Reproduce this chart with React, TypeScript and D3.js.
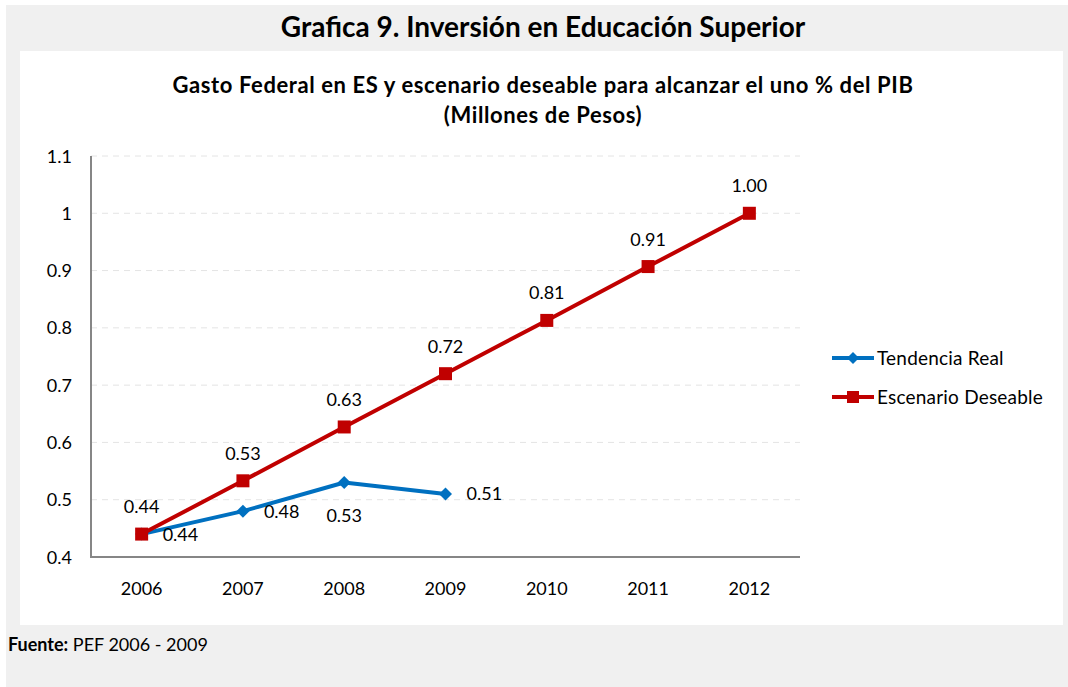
import React from 'react';
import * as d3 from 'd3';

// datos
const years = ['2006', '2007', '2008', '2009', '2010', '2011', '2012'];
const tendenciaReal = [0.44, 0.48, 0.53, 0.51];
const escenarioDeseable = [0.44, 0.533, 0.627, 0.72, 0.813, 0.907, 1.0];
const yTicks = [0.4, 0.5, 0.6, 0.7, 0.8, 0.9, 1, 1.1];
// posición de la etiqueta de cada punto azul
const realLabelPos = ['right', 'right', 'below', 'right'];

const W = 1068;
const H = 687;
const FONT = 'Lato, "Open Sans", sans-serif';
const BLUE = '#0070C0';
const RED = '#C00000';
const FS = 18;

const plot = { left: 91, right: 800, top: 156, bottom: 557 };

export default function App() {
	const x = d3.scalePoint<string>().domain(years).range([plot.left, plot.right]).padding(0.5);
	const y = d3.scaleLinear().domain([0.4, 1.1]).range([plot.bottom, plot.top]);

	const line = d3.line<number>().x((_, i) => x(years[i])!).y(d => y(d));

	const diamond = (cx: number, cy: number, r = 6.5) =>
		`M${cx},${cy - r}L${cx + r},${cy}L${cx},${cy + r}L${cx - r},${cy}Z`;

	return (
		<svg width={W} height={H} style={{ position: 'absolute', left: 0, top: 0, fontFamily: FONT }}>
			<rect x={0} y={0} width={W} height={H} fill="#ffffff" />
			<rect x={6} y={5} width={W - 6} height={H - 5} fill="#f0f0f0" />
			<rect x={20} y={51} width={1043} height={574} fill="#ffffff" />

			<text x={543} y={37} textAnchor="middle" fontSize={28} fontWeight="bold" fill="#000">
				Grafica 9. Inversión en Educación Superior
			</text>
			<text x={543} y={93} textAnchor="middle" fontSize={22} letterSpacing={0.6} fontWeight="bold" fill="#000">
				Gasto Federal en ES y escenario deseable para alcanzar el uno % del PIB
			</text>
			<text x={543} y={123} textAnchor="middle" fontSize={22} letterSpacing={0.6} fontWeight="bold" fill="#000">
				(Millones de Pesos)
			</text>

			{/* grid */}
			{yTicks.slice(1).map(t => (
				<line key={t} x1={plot.left} x2={plot.right} y1={y(t)} y2={y(t)}
					stroke="#e4e4e4" strokeDasharray="6,5" strokeWidth={1} />
			))}
			{yTicks.map(t => (
				<text key={t} x={72} y={y(t) + 6.5} textAnchor="end" fontSize={FS} fill="#000">{String(t)}</text>
			))}
			{years.map(yr => (
				<text key={yr} x={x(yr)} y={595} textAnchor="middle" fontSize={FS} fill="#000">{yr}</text>
			))}
			<line x1={plot.left} x2={plot.left} y1={plot.top} y2={plot.bottom + 1} stroke="#868686" strokeWidth={2} />
			<line x1={plot.left} x2={plot.right} y1={plot.bottom} y2={plot.bottom} stroke="#868686" strokeWidth={2} />

			{/* Tendencia Real */}
			<path d={line(tendenciaReal) || ''} fill="none" stroke={BLUE} strokeWidth={4} strokeLinejoin="round" />
			{tendenciaReal.map((v, i) => (
				<path key={i} d={diamond(x(years[i])!, y(v))} fill={BLUE} />
			))}

			{/* Escenario Deseable */}
			<path d={line(escenarioDeseable) || ''} fill="none" stroke={RED} strokeWidth={4} strokeLinejoin="round" />
			{escenarioDeseable.map((v, i) => (
				<rect key={i} x={x(years[i])! - 6.5} y={y(v) - 6.5} width={13} height={13} fill={RED} />
			))}

			{/* etiquetas */}
			{escenarioDeseable.map((v, i) => (
				<text key={i} x={x(years[i])} y={y(v) - 21} textAnchor="middle" fontSize={FS} fill="#000">
					{v.toFixed(2)}
				</text>
			))}
			{tendenciaReal.map((v, i) => {
				const cx = x(years[i])!;
				const cy = y(v);
				if (realLabelPos[i] === 'below') {
					return <text key={i} x={cx} y={cy + 39} textAnchor="middle" fontSize={FS} fill="#000">{v.toFixed(2)}</text>;
				}
				return <text key={i} x={cx + 21} y={cy + 6.5} textAnchor="start" fontSize={FS} fill="#000">{v.toFixed(2)}</text>;
			})}

			{/* leyenda */}
			<line x1={832} x2={874} y1={358} y2={358} stroke={BLUE} strokeWidth={4} />
			<path d={diamond(853, 358, 6)} fill={BLUE} />
			<text x={877} y={364.5} fontSize={19} letterSpacing={0.2} fill="#000">Tendencia Real</text>
			<line x1={832} x2={874} y1={397} y2={397} stroke={RED} strokeWidth={4} />
			<rect x={847} y={391} width={12} height={12} fill={RED} />
			<text x={877} y={403.5} fontSize={19} letterSpacing={0.2} fill="#000">Escenario Deseable</text>

			<text x={8} y={651} fontSize={18} fill="#000">
				<tspan fontWeight="bold">Fuente:</tspan> PEF 2006 - 2009
			</text>
		</svg>
	);
}
